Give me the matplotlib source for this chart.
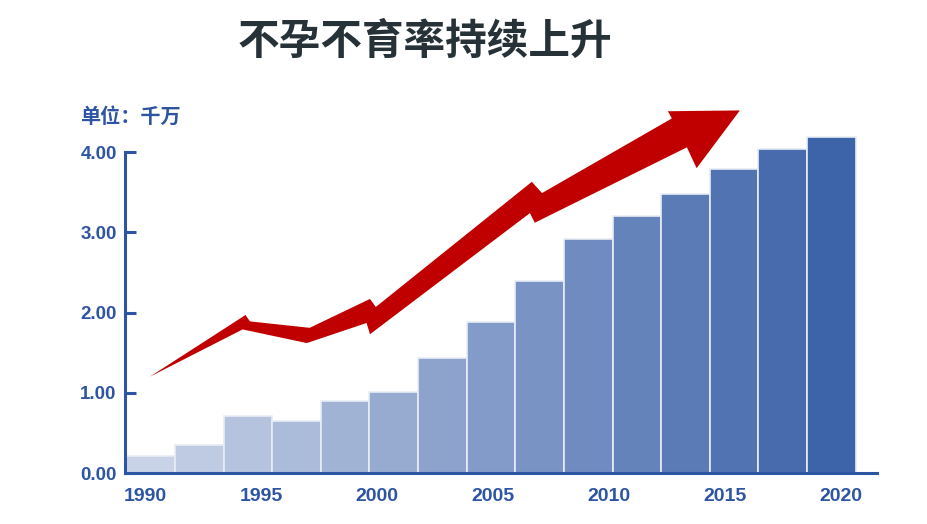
import matplotlib
matplotlib.use("Agg")
import matplotlib.pyplot as plt
from matplotlib.patches import Polygon
import numpy as np

plt.rcParams['font.family'] = ['Liberation Sans', 'Noto Sans CJK SC', 'DejaVu Sans']

# data (unit: 千万)
values = [0.21, 0.35, 0.71, 0.65, 0.90, 1.01, 1.43, 1.88, 2.39, 2.92, 3.20, 3.48, 3.79, 4.04, 4.19]
year_labels = ['1990', '1995', '2000', '2005', '2010', '2015', '2020']
y_ticks = [0, 1, 2, 3, 4]

# zigzag arrow outline, in data units (bar index, value)
arrow_x = [-0.02, 1.95, 2.04, 3.27, 4.51, 4.63, 7.84, 8.05, 10.72, 10.64, 12.12, 11.23, 11.03,
           7.90, 7.80, 4.51, 4.44, 3.21, 1.89]
arrow_y = [1.20, 1.97, 1.89, 1.81, 2.17, 2.07, 3.63, 3.49, 4.42, 4.51, 4.52, 3.80, 4.06,
           3.12, 3.24, 1.73, 1.87, 1.62, 1.79]

blue = '#2d55a3'
light = np.array([201, 211, 231]) / 255
dark = np.array([61, 99, 169]) / 255
n = len(values)
colors = [light + (dark - light) * i / (n - 1) for i in range(n)]

fig = plt.figure(figsize=(9.28, 5.24), dpi=100)
ax = fig.add_axes([0.1347, 0.0973, 0.8103, 0.7042])

x = np.arange(n)
ax.bar(x, values, width=1.0, color=colors, edgecolor='#e8ecf5', linewidth=1.2, zorder=2)

ax.add_patch(Polygon(np.column_stack([arrow_x, arrow_y]), closed=True,
                     facecolor='#c00000', edgecolor='none', zorder=3))

ax.set_xlim(-0.53, 14.94)
ax.set_ylim(0, 4.6)

for s in ['top', 'right']:
    ax.spines[s].set_visible(False)
ax.spines['left'].set_bounds(0, 4)
ax.spines['left'].set_color(blue)
ax.spines['bottom'].set_color(blue)
ax.spines['left'].set_linewidth(2.2)
ax.spines['bottom'].set_linewidth(2.2)
ax.spines['bottom'].set_zorder(4)

ax.set_yticks(y_ticks)
ax.set_yticklabels(['%.2f' % v for v in y_ticks])
ax.tick_params(axis='y', direction='in', length=8, width=2.2, color=blue,
               labelcolor=blue, labelsize=13.5, pad=6)
for lab in ax.get_yticklabels():
    lab.set_fontweight('bold')

ax.set_xticks(np.linspace(-0.12, 14.2, len(year_labels)))
ax.set_xticklabels(year_labels)
ax.tick_params(axis='x', length=0, labelcolor=blue, labelsize=14, pad=11)
for lab in ax.get_xticklabels():
    lab.set_fontweight('bold')

fig.text(0.086, 0.777, '单位：千万', color=blue, fontsize=14.5, fontweight='bold',
         family=['Noto Sans CJK SC', 'DejaVu Sans'], va='center', ha='left')
fig.text(0.458, 0.92, '不孕不育率持续上升', color='#263238', fontsize=30, fontweight='bold',
         family=['Noto Sans CJK SC', 'DejaVu Sans'], va='center', ha='center')

fig.savefig('out.png', dpi=100)
